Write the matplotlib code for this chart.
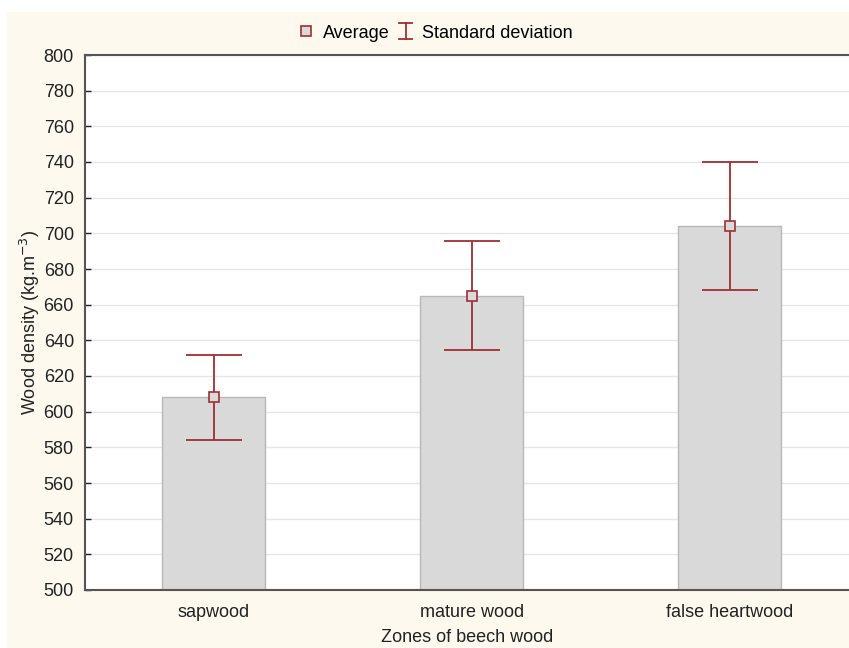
import numpy as np
import matplotlib.pyplot as plt
from matplotlib.patches import Rectangle
from matplotlib.lines import Line2D
from matplotlib.legend_handler import HandlerBase

plt.rcParams['font.family'] = ['Liberation Sans', 'DejaVu Sans']

zones = ['sapwood', 'mature wood', 'false heartwood']
average = [608, 665, 704]
std_dev = [24, 30.5, 36]

dark_red = '#9e2f33'
bg = '#fdf9ef'


class HandlerIBar(HandlerBase):
    # draws the little "I" used for the standard deviation in the legend
    def create_artists(self, legend, orig_handle, xdescent, ydescent, width, height, fontsize, trans):
        cx = width / 2 - xdescent
        y0 = -ydescent - 0.15 * height
        y1 = -ydescent + 1.15 * height
        w = 0.35 * width
        kw = dict(color=dark_red, linewidth=1.3, transform=trans)
        return [Line2D([cx, cx], [y0, y1], **kw),
                Line2D([cx - w, cx + w], [y0, y0], **kw),
                Line2D([cx - w, cx + w], [y1, y1], **kw)]


fig = plt.figure(figsize=(8.49, 6.48), dpi=100)
fig.patches.append(Rectangle((7 / 849, 0), 1, 1 - 12 / 648, transform=fig.transFigure,
                             facecolor=bg, edgecolor='none', zorder=-10))

ax = fig.add_axes([85 / 849, 58 / 648, 1 - 85 / 849, (590 - 55) / 648])
x = np.arange(len(zones))

ax.bar(x, np.array(average) - 500, bottom=500, width=0.4, color='#d9d9d9',
       edgecolor='#b8b8b8', linewidth=1, zorder=2)
ax.errorbar(x, average, yerr=std_dev, fmt='none', ecolor=dark_red, elinewidth=1.3,
            capsize=20, capthick=1.3, zorder=3)
ax.plot(x, average, 's', markersize=6.5, markerfacecolor='#d9d9d9',
        markeredgecolor=dark_red, markeredgewidth=1.2, zorder=4)

ax.set_ylim(500, 800)
ax.set_yticks(np.arange(500, 801, 20))
ax.set_xlim(-0.5, 2.463)
ax.set_xticks(x)
ax.set_xticklabels(zones)
ax.yaxis.grid(True, color='#e6e6e6', linewidth=1, zorder=0)
ax.set_axisbelow(True)
ax.tick_params(direction='in', length=4, width=1, labelsize=13, colors='#222222')
ax.tick_params(axis='x', pad=10)
ax.tick_params(axis='y', pad=8)
for side in ['left', 'bottom', 'top']:
    ax.spines[side].set_color('#555555')
    ax.spines[side].set_linewidth(1.5)
ax.spines['right'].set_visible(False)

ax.set_xlabel('Zones of beech wood', fontsize=13, color='#222222', labelpad=6)
ax.set_ylabel('Wood density (kg.m$^{-3}$)', fontsize=13, color='#222222', labelpad=1)

h_avg = Line2D([], [], linestyle='none', marker='s', markersize=7,
               markerfacecolor='#d9d9d9', markeredgecolor=dark_red, markeredgewidth=1.2)
h_sd = Line2D([], [], color=dark_red)
fig.legend([h_avg, h_sd], ['Average', 'Standard deviation'], loc='center',
           bbox_to_anchor=(435 / 849, 1 - 33 / 648), ncol=2, frameon=False,
           fontsize=13, handlelength=1.0, handletextpad=0.4, columnspacing=0.4,
           handler_map={h_sd: HandlerIBar()})

fig.savefig('out.png', dpi=100, facecolor='white')
